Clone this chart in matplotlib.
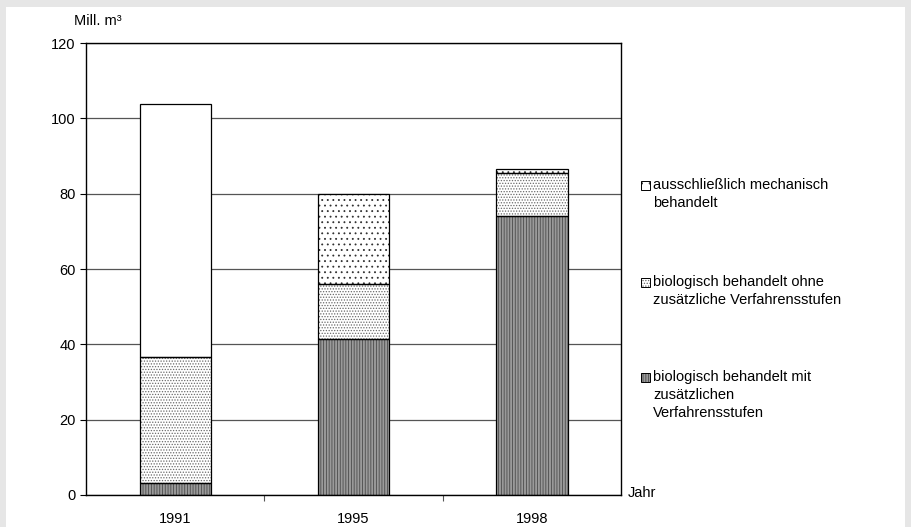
import numpy as np
import matplotlib.pyplot as plt
from matplotlib.patches import Rectangle

plt.rcParams['font.family'] = ['Liberation Sans', 'DejaVu Sans']
plt.rcParams['font.size'] = 10
plt.rcParams['hatch.linewidth'] = 0.6

# wastewater volume by treatment type (Mill. m³)
years = ['1991', '1995', '1998']
bio_mit = [3.3, 41.4, 74.1]      # biologisch behandelt mit zusaetzlichen Verfahrensstufen
bio_ohne = [33.3, 14.5, 11.5]    # biologisch behandelt ohne zusaetzliche Verfahrensstufen
mech = [67.2, 24.0, 0.9]         # ausschliesslich mechanisch behandelt
mech_hatch = ['', '...', '...']

legend_labels = ['ausschließlich mechanisch\nbehandelt',
                 'biologisch behandelt ohne\nzusätzliche Verfahrensstufen',
                 'biologisch behandelt mit\nzusätzlichen\nVerfahrensstufen']

fig = plt.figure(figsize=(9.11, 5.27), dpi=100)
fig.patch.set_facecolor('#e6e6e6')
# white panel inside the grey border
fig.patches.append(Rectangle((6 / 911, 0), 899 / 911, 520 / 527,
                             transform=fig.transFigure, facecolor='white',
                             edgecolor='none', zorder=-5))

ax = fig.add_axes([86 / 911, 1 - 495 / 527, 535 / 911, 452 / 527])
ax.set_zorder(2)
ax.set_facecolor('white')

x = np.arange(len(years))
w = 0.4

def seg(bottom, height, face, hatch, hcolor):
    # fill + hatch layer, then a separate black outline
    ax.bar(x, height, w, bottom=bottom, color=face, edgecolor=hcolor,
           hatch=hatch, linewidth=0, zorder=2)
    ax.bar(x, height, w, bottom=bottom, fill=False, edgecolor='black',
           linewidth=0.9, zorder=3)

b0 = np.zeros(3)
b1 = b0 + np.array(bio_mit)
b2 = b1 + np.array(bio_ohne)

seg(b0, bio_mit, '#9a9a9a', '||||||', '#4a4a4a')
seg(b1, bio_ohne, 'white', '......', '#6a6a6a')
for i in range(3):
    ax.bar(x[i], mech[i], w, bottom=b2[i], color='white', edgecolor='#303030',
           hatch=mech_hatch[i], linewidth=0, zorder=2)
ax.bar(x, mech, w, bottom=b2, fill=False, edgecolor='black', linewidth=0.9,
       zorder=3)

ax.set_xlim(-0.5, 2.5)
ax.set_ylim(0, 120)
ax.set_yticks(np.arange(0, 121, 20))
ax.yaxis.grid(True, color='#555555', linewidth=0.9)
ax.set_axisbelow(True)

# year labels at bar centres, tick marks between categories
ax.set_xticks([0.5, 1.5])
ax.set_xticklabels([])
ax.tick_params(axis='x', direction='out', length=4, width=0.8, color='#555555')
ax.tick_params(axis='y', direction='out', length=4, width=0.8, labelsize=10.5)
for i, yr in enumerate(years):
    ax.text(x[i], -4.6, yr, ha='center', va='top', fontsize=10.5,
            clip_on=False)

for s in ax.spines.values():
    s.set_linewidth(1.0)
    s.set_color('black')

fig.text(98 / 911, 1 - 21 / 527, 'Mill. m³', ha='center', va='center',
         fontsize=10.5)
fig.text(628 / 911, 1 - 493 / 527, 'Jahr', ha='left', va='center',
         fontsize=10.5)

# legend drawn by hand to the right of the plot
leg_y = [180, 277, 372]
leg_style = [('white', '..', '#303030'), ('white', '......', '#6a6a6a'),
             ('#9a9a9a', '||||||', '#4a4a4a')]
for yy, lab, (fc, h, hc) in zip(leg_y, legend_labels, leg_style):
    fig.patches.append(Rectangle((641 / 911, 1 - (yy + 10) / 527), 9 / 911,
                                 9 / 527, transform=fig.transFigure,
                                 facecolor=fc, edgecolor=hc, hatch=h,
                                 linewidth=0, zorder=2))
    fig.patches.append(Rectangle((641 / 911, 1 - (yy + 10) / 527), 9 / 911,
                                 9 / 527, transform=fig.transFigure,
                                 fill=False, edgecolor='black',
                                 linewidth=0.7, zorder=3))
    fig.text(653 / 911, 1 - (yy - 2) / 527, lab, ha='left', va='top',
             fontsize=10.5, linespacing=1.35)

fig.savefig('out.png', dpi=100, facecolor=fig.get_facecolor())
